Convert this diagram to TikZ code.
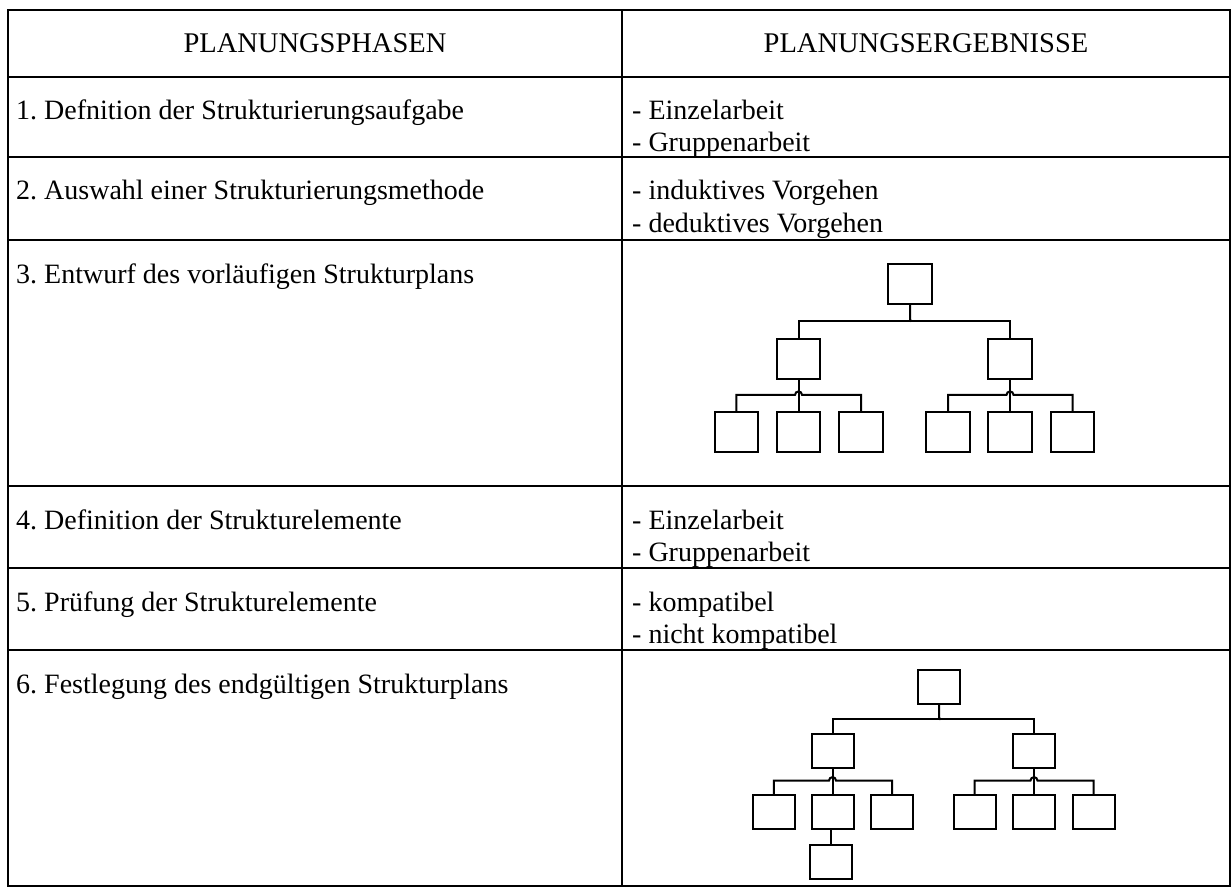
\documentclass[tikz,border=0pt]{standalone}
\usepackage{fontspec}
\setmainfont{Liberation Serif}
\frenchspacing
\begin{document}
\begin{tikzpicture}[x=1pt,y=1pt,
  tbl/.style={line width=2pt},
  box/.style={draw,line width=2pt,inner sep=0pt,minimum width=43.5pt,minimum height=40pt},
  sbox/.style={draw,line width=2pt,inner sep=0pt,minimum width=42pt,minimum height=34pt},
  conn/.style={line width=2pt},
  txt/.style={anchor=base west,inner sep=0pt,font=\fontsize{28}{32}\selectfont},
  head/.style={anchor=base,inner sep=0pt,font=\fontsize{28.5}{32}\selectfont}]
\useasboundingbox (0,0) rectangle (1232,-888);
\fill[white] (0,0) rectangle (1232,-888);
% table
\draw[tbl] (8,-10) rectangle (1230,-886);
\draw[tbl] (622,-10) -- (622,-886);
\foreach \y in {77,157,240,486,568,650} \draw[tbl] (8,-\y) -- (1230,-\y);
% texts
\node[head] (h1) at (315,-53) {PLANUNGSPHASEN};
\node[head] (h2) at (926,-53) {PLANUNGSERGEBNISSE};
\node[txt] (p1) at (16,-120) {1. Defnition der Strukturierungsaufgabe};
\node[txt] (e1a) at (632,-120) {- Einzelarbeit};
\node[txt] (e1b) at (632,-152) {- Gruppenarbeit};
\node[txt] (p2) at (16,-200) {2. Auswahl einer Strukturierungsmethode};
\node[txt] (e2a) at (632,-200) {- induktives Vorgehen};
\node[txt] (e2b) at (632,-232) {- deduktives Vorgehen};
\node[txt] (p3) at (16,-283) {3. Entwurf des vorläufigen Strukturplans};
\node[txt] (p4) at (16,-529) {4. Definition der Strukturelemente};
\node[txt] (e4a) at (632,-529) {- Einzelarbeit};
\node[txt] (e4b) at (632,-561) {- Gruppenarbeit};
\node[txt] (p5) at (16,-611) {5. Prüfung der Strukturelemente};
\node[txt] (e5a) at (632,-611) {- kompatibel};
\node[txt] (e5b) at (632,-643) {- nicht kompatibel};
\node[txt] (p6) at (16,-693) {6. Festlegung des endgültigen Strukturplans};
% tree 1
\node[box] (r1) at (910,-283.5) {};
\node[box] (m1) at (798.5,-359.3) {};
\node[box] (m2) at (1010,-359.3) {};
\node[box] (a1) at (736.3,-432.2) {};
\node[box] (a2) at (798.5,-432.2) {};
\node[box] (a3) at (861.2,-432.2) {};
\node[box] (b1) at (948,-432.2) {};
\node[box] (b2) at (1010,-432.2) {};
\node[box] (b3) at (1072.7,-432.2) {};
\draw[conn] (r1.south) -- ++(0,-15) -- ++(1.5,-2);
\draw[conn] (m1.north) -- ++(0,17.7) -| (m2.north);
\draw[conn] (m1.south) -- (a2.north);
\draw[conn] (a1.north) -- ++(0,16.3) -- ([xshift=-3.5pt,yshift=16.3pt]a2.north) arc[start angle=180,end angle=0,radius=3.5pt] -| (a3.north);
\draw[conn] (m2.south) -- (b2.north);
\draw[conn] (b1.north) -- ++(0,16.3) -- ([xshift=-3.5pt,yshift=16.3pt]b2.north) arc[start angle=180,end angle=0,radius=3.5pt] -| (b3.north);
% tree 2
\node[sbox] (R) at (939.2,-687.2) {};
\node[sbox] (M1) at (832.5,-751.2) {};
\node[sbox] (M2) at (1034,-751.2) {};
\node[sbox] (c11) at (773.8,-812.2) {};
\node[sbox] (c12) at (832.5,-812.2) {};
\node[sbox] (c13) at (892,-812.2) {};
\node[sbox] (c21) at (974.7,-812.2) {};
\node[sbox] (c22) at (1034,-812.2) {};
\node[sbox] (c23) at (1093.5,-812.2) {};
\node[sbox] (X) at (830.8,-861.7) {};
\draw[conn] (R.south) -- ++(0,-12.5) -- ++(1.5,-2);
\draw[conn] (M1.north) -- ++(0,14) -| (M2.north);
\draw[conn] (M1.south) -- (c12.north);
\draw[conn] (c11.north) -- ++(0,13.6) -- ([xshift=-3.5pt,yshift=13.6pt]c12.north) arc[start angle=180,end angle=0,radius=3.5pt] -| (c13.north);
\draw[conn] (M2.south) -- (c22.north);
\draw[conn] (c21.north) -- ++(0,13.6) -- ([xshift=-3.5pt,yshift=13.6pt]c22.north) arc[start angle=180,end angle=0,radius=3.5pt] -| (c23.north);
\draw[conn] (X.north) -- (X.north |- c12.south);
\end{tikzpicture}
\end{document}
